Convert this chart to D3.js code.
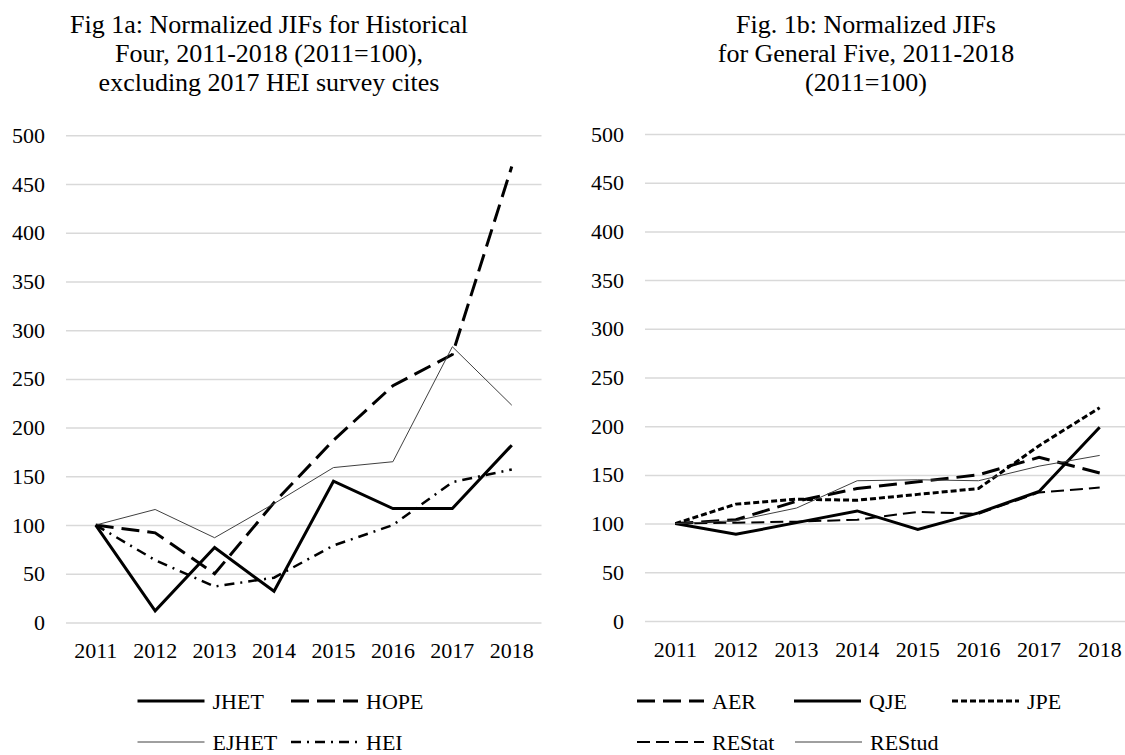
<!DOCTYPE html>
<html>
<head>
<meta charset="utf-8">
<script src="https://cdn.jsdelivr.net/npm/d3@7"></script>
<style>
  body { margin: 0; background: #fff; }
  svg text { font-family: "Liberation Serif", "Times New Roman", serif; fill: #000; }
</style>
</head>
<body>
<svg id="chart" width="1125" height="755"></svg>
<script>
// years and tick labels
var years = ['2011', '2012', '2013', '2014', '2015', '2016', '2017', '2018'];
var yTicks = [0, 50, 100, 150, 200, 250, 300, 350, 400, 450, 500];

// Fig 1a series
var jhet  = [100, 12, 77, 32, 145, 117, 117, 182];
var hope  = [100, 92, 50, 123, 187, 243, 275, 468];
var ejhet = [100, 116, 87, 122, 159, 165, 283, 223];
var hei   = [100, 64, 37, 46, 79, 100, 144, 157];

// Fig 1b series
var aer    = [100, 104, 123, 136, 143, 150, 168, 152];
var qje    = [100, 89, 101, 113, 94, 111, 133, 199];
var jpe    = [100, 120, 125, 124, 130, 136, 180, 219];
var restat = [100, 101, 102, 104, 112, 110, 132, 137];
var restud = [100, 103, 116, 144, 145, 144, 159, 170];

var styles = {
  solidThick: { w: 3, dash: null, color: '#000' },
  longDash:   { w: 3, dash: '18,8', color: '#000' },
  thin:       { w: 1, dash: null, color: '#404040' },
  dashDot:    { w: 2.5, dash: '10,6,2,6', color: '#000' },
  shortDash:  { w: 3, dash: '6,3', color: '#000' },
  medDash:    { w: 2, dash: '13,6', color: '#000' }
};

var svg = d3.select('#chart');

function drawPanel(cfg) {
  var x = d3.scaleBand().domain(years).range([cfg.x0, cfg.x1]);
  var y = d3.scaleLinear().domain([0, 500]).range([cfg.y0, cfg.y1]);
  var g = svg.append('g');

  // title
  var title = g.append('text')
    .attr('text-anchor', 'middle')
    .attr('font-size', '26px');
  cfg.title.forEach(function (t, i) {
    title.append('tspan').attr('x', cfg.tx).attr('y', 33 + i * 29).text(t);
  });

  // y axis with gridlines
  var ya = g.append('g')
    .attr('transform', 'translate(' + cfg.x0 + ',0)')
    .call(d3.axisLeft(y).tickValues(yTicks)
      .tickSize(-(cfg.x1 - cfg.x0)).tickPadding(21));
  ya.select('.domain').remove();
  ya.selectAll('line').attr('stroke', '#d9d9d9').attr('stroke-width', 1.5);
  ya.selectAll('text').attr('font-size', '22px');

  // x axis labels
  var xa = g.append('g')
    .attr('transform', 'translate(0,' + cfg.y0 + ')')
    .call(d3.axisBottom(x).tickSize(0).tickPadding(20));
  xa.select('.domain').remove();
  xa.selectAll('text').attr('font-size', '22px');

  var line = d3.line()
    .x(function (d, i) { return x(years[i]) + x.bandwidth() / 2; })
    .y(function (d) { return y(d); });

  cfg.series.forEach(function (s) {
    var st = styles[s.style];
    g.append('path')
      .datum(s.values)
      .attr('d', line)
      .attr('fill', 'none')
      .attr('stroke', st.color)
      .attr('stroke-width', st.w)
      .attr('stroke-dasharray', st.dash)
      .attr('stroke-linejoin', 'miter');
  });

  // legend
  cfg.series.forEach(function (s) {
    var st = styles[s.style];
    g.append('line')
      .attr('x1', s.lx).attr('x2', s.lx + 67)
      .attr('y1', s.ly).attr('y2', s.ly)
      .attr('stroke', st.color)
      .attr('stroke-width', st.w)
      .attr('stroke-dasharray', st.dash);
    g.append('text')
      .attr('x', s.lx + 75).attr('y', s.ly + 8)
      .attr('font-size', '22px')
      .text(s.name);
  });
}

drawPanel({
  x0: 66, x1: 541.5, y0: 622.5, y1: 135.3, tx: 269,
  title: ['Fig 1a: Normalized JIFs for Historical', 'Four, 2011-2018 (2011=100),', 'excluding 2017 HEI survey cites'],
  series: [
    { name: 'JHET', values: jhet, style: 'solidThick', lx: 137.5, ly: 701 },
    { name: 'HOPE', values: hope, style: 'longDash', lx: 291, ly: 701 },
    { name: 'EJHET', values: ejhet, style: 'thin', lx: 137.5, ly: 742 },
    { name: 'HEI', values: hei, style: 'dashDot', lx: 291, ly: 742 }
  ]
});

drawPanel({
  x0: 645, x1: 1130, y0: 621, y1: 134, tx: 866,
  title: ['Fig. 1b: Normalized JIFs', 'for General Five, 2011-2018', '(2011=100)'],
  series: [
    { name: 'AER', values: aer, style: 'longDash', lx: 637, ly: 701 },
    { name: 'QJE', values: qje, style: 'solidThick', lx: 794, ly: 701 },
    { name: 'JPE', values: jpe, style: 'shortDash', lx: 952, ly: 701 },
    { name: 'REStat', values: restat, style: 'medDash', lx: 637, ly: 742 },
    { name: 'REStud', values: restud, style: 'thin', lx: 795, ly: 742 }
  ]
});
</script>
</body>
</html>
